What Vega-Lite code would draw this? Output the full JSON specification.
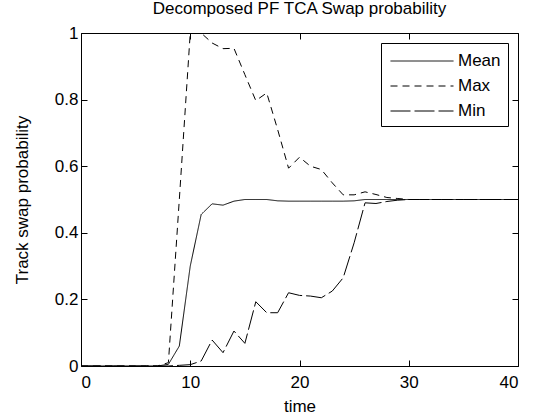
{
  "$schema": "https://vega.github.io/schema/vega-lite/v6.json",
  "autosize": "none",
  "width": 437,
  "height": 333,
  "padding": {"left": 81, "top": 33, "right": 19, "bottom": 49},
  "background": "white",
  "title": {"text": "Decomposed PF TCA Swap probability", "font": "Liberation Sans", "fontSize": 17, "fontWeight": "normal", "color": "black", "offset": 6},
  "config": {
    "view": {"stroke": "black", "strokeWidth": 1},
    "axis": {"labelFont": "Liberation Sans", "titleFont": "Liberation Sans", "labelFontSize": 17, "titleFontSize": 17, "titleFontWeight": "normal", "labelColor": "black", "titleColor": "black", "domain": false, "grid": false},
    "legend": {"labelFont": "Liberation Sans", "labelFontSize": 17, "labelColor": "black"}
  },
  "data": {"values": [
    {"t":0,"s":"Mean","v":0},{"t":1,"s":"Mean","v":0},{"t":2,"s":"Mean","v":0},{"t":3,"s":"Mean","v":0},{"t":4,"s":"Mean","v":0},{"t":5,"s":"Mean","v":0},{"t":6,"s":"Mean","v":0},{"t":7,"s":"Mean","v":0},{"t":8,"s":"Mean","v":0.005},{"t":9,"s":"Mean","v":0.06},{"t":10,"s":"Mean","v":0.3},{"t":11,"s":"Mean","v":0.455},{"t":12,"s":"Mean","v":0.487},{"t":13,"s":"Mean","v":0.483},{"t":14,"s":"Mean","v":0.495},{"t":15,"s":"Mean","v":0.5},{"t":16,"s":"Mean","v":0.5},{"t":17,"s":"Mean","v":0.5},{"t":18,"s":"Mean","v":0.496},{"t":19,"s":"Mean","v":0.495},{"t":20,"s":"Mean","v":0.495},{"t":21,"s":"Mean","v":0.495},{"t":22,"s":"Mean","v":0.495},{"t":23,"s":"Mean","v":0.495},{"t":24,"s":"Mean","v":0.495},{"t":25,"s":"Mean","v":0.496},{"t":26,"s":"Mean","v":0.5},{"t":27,"s":"Mean","v":0.5},{"t":28,"s":"Mean","v":0.5},{"t":29,"s":"Mean","v":0.5},{"t":30,"s":"Mean","v":0.5},{"t":31,"s":"Mean","v":0.5},{"t":32,"s":"Mean","v":0.5},{"t":33,"s":"Mean","v":0.5},{"t":34,"s":"Mean","v":0.5},{"t":35,"s":"Mean","v":0.5},{"t":36,"s":"Mean","v":0.5},{"t":37,"s":"Mean","v":0.5},{"t":38,"s":"Mean","v":0.5},{"t":39,"s":"Mean","v":0.5},{"t":40,"s":"Mean","v":0.5},
    {"t":0,"s":"Max","v":0},{"t":1,"s":"Max","v":0},{"t":2,"s":"Max","v":0},{"t":3,"s":"Max","v":0},{"t":4,"s":"Max","v":0},{"t":5,"s":"Max","v":0},{"t":6,"s":"Max","v":0},{"t":7,"s":"Max","v":0},{"t":8,"s":"Max","v":0.01},{"t":9,"s":"Max","v":0.5},{"t":10,"s":"Max","v":1.0},{"t":11,"s":"Max","v":1.0},{"t":12,"s":"Max","v":0.97},{"t":13,"s":"Max","v":0.953},{"t":14,"s":"Max","v":0.954},{"t":15,"s":"Max","v":0.875},{"t":16,"s":"Max","v":0.797},{"t":17,"s":"Max","v":0.82},{"t":18,"s":"Max","v":0.71},{"t":19,"s":"Max","v":0.594},{"t":20,"s":"Max","v":0.627},{"t":21,"s":"Max","v":0.6},{"t":22,"s":"Max","v":0.59},{"t":23,"s":"Max","v":0.55},{"t":24,"s":"Max","v":0.514},{"t":25,"s":"Max","v":0.514},{"t":26,"s":"Max","v":0.523},{"t":27,"s":"Max","v":0.515},{"t":28,"s":"Max","v":0.506},{"t":29,"s":"Max","v":0.503},{"t":30,"s":"Max","v":0.5},{"t":31,"s":"Max","v":0.5},{"t":32,"s":"Max","v":0.5},{"t":33,"s":"Max","v":0.5},{"t":34,"s":"Max","v":0.5},{"t":35,"s":"Max","v":0.5},{"t":36,"s":"Max","v":0.5},{"t":37,"s":"Max","v":0.5},{"t":38,"s":"Max","v":0.5},{"t":39,"s":"Max","v":0.5},{"t":40,"s":"Max","v":0.5},
    {"t":0,"s":"Min","v":0},{"t":1,"s":"Min","v":0},{"t":2,"s":"Min","v":0},{"t":3,"s":"Min","v":0},{"t":4,"s":"Min","v":0},{"t":5,"s":"Min","v":0},{"t":6,"s":"Min","v":0},{"t":7,"s":"Min","v":0},{"t":8,"s":"Min","v":0},{"t":9,"s":"Min","v":0.002},{"t":10,"s":"Min","v":0.004},{"t":11,"s":"Min","v":0.015},{"t":12,"s":"Min","v":0.078},{"t":13,"s":"Min","v":0.04},{"t":14,"s":"Min","v":0.105},{"t":15,"s":"Min","v":0.068},{"t":16,"s":"Min","v":0.193},{"t":17,"s":"Min","v":0.16},{"t":18,"s":"Min","v":0.16},{"t":19,"s":"Min","v":0.22},{"t":20,"s":"Min","v":0.212},{"t":21,"s":"Min","v":0.21},{"t":22,"s":"Min","v":0.205},{"t":23,"s":"Min","v":0.225},{"t":24,"s":"Min","v":0.265},{"t":25,"s":"Min","v":0.37},{"t":26,"s":"Min","v":0.49},{"t":27,"s":"Min","v":0.488},{"t":28,"s":"Min","v":0.494},{"t":29,"s":"Min","v":0.498},{"t":30,"s":"Min","v":0.5},{"t":31,"s":"Min","v":0.5},{"t":32,"s":"Min","v":0.5},{"t":33,"s":"Min","v":0.5},{"t":34,"s":"Min","v":0.5},{"t":35,"s":"Min","v":0.5},{"t":36,"s":"Min","v":0.5},{"t":37,"s":"Min","v":0.5},{"t":38,"s":"Min","v":0.5},{"t":39,"s":"Min","v":0.5},{"t":40,"s":"Min","v":0.5}
  ]},
  "layer": [
    {
      "mark": {"type": "line", "color": "black", "strokeWidth": 1, "clip": true},
      "encoding": {
        "x": {"field": "t", "type": "quantitative", "scale": {"domain": [0, 40], "nice": false, "zero": false}, "axis": {"values": [0, 10, 20, 30, 40], "title": "time", "titlePadding": 8, "labelPadding": 14, "ticks": true, "tickSize": -6, "tickColor": "black", "tickWidth": 1}},
        "y": {"field": "v", "type": "quantitative", "scale": {"domain": [0, 1], "nice": false}, "axis": {"values": [0, 0.2, 0.4, 0.6, 0.8, 1], "format": "~g", "title": "Track swap probability", "titlePadding": 23, "labelPadding": 9, "ticks": true, "tickSize": -6, "tickColor": "black", "tickWidth": 1}},
        "strokeDash": {"field": "s", "type": "nominal", "scale": {"domain": ["Mean", "Max", "Min"], "range": [[1, 0], [7, 5], [20, 4]]},
          "legend": {"title": null, "orient": "top-right", "offset": 10, "symbolType": "M-3,0H3", "symbolSize": 441, "symbolOffset": 23, "symbolStrokeColor": "black", "symbolStrokeWidth": 1, "symbolFillColor": "transparent", "strokeColor": "black", "fillColor": "white", "padding": 7, "rowPadding": 6, "labelOffset": 25}},
        "detail": {"field": "s"}
      }
    },
    {
      "data": {"values": [{"t": 0, "v": 0}]},
      "mark": {"type": "point", "opacity": 0},
      "encoding": {
        "x": {"field": "t", "type": "quantitative", "scale": {"domain": [0, 40], "nice": false, "zero": false}, "axis": {"orient": "top", "values": [0, 10, 20, 30, 40], "labels": false, "title": null, "ticks": true, "tickSize": -6, "tickColor": "black", "tickWidth": 1}},
        "y": {"field": "v", "type": "quantitative", "scale": {"domain": [0, 1], "nice": false, "zero": false}, "axis": {"orient": "right", "values": [0, 0.2, 0.4, 0.6, 0.8, 1], "labels": false, "title": null, "ticks": true, "tickSize": -6, "tickColor": "black", "tickWidth": 1}}
      }
    }
  ],
  "resolve": {"scale": {"x": "independent", "y": "independent"}, "axis": {"x": "independent", "y": "independent"}}
}
